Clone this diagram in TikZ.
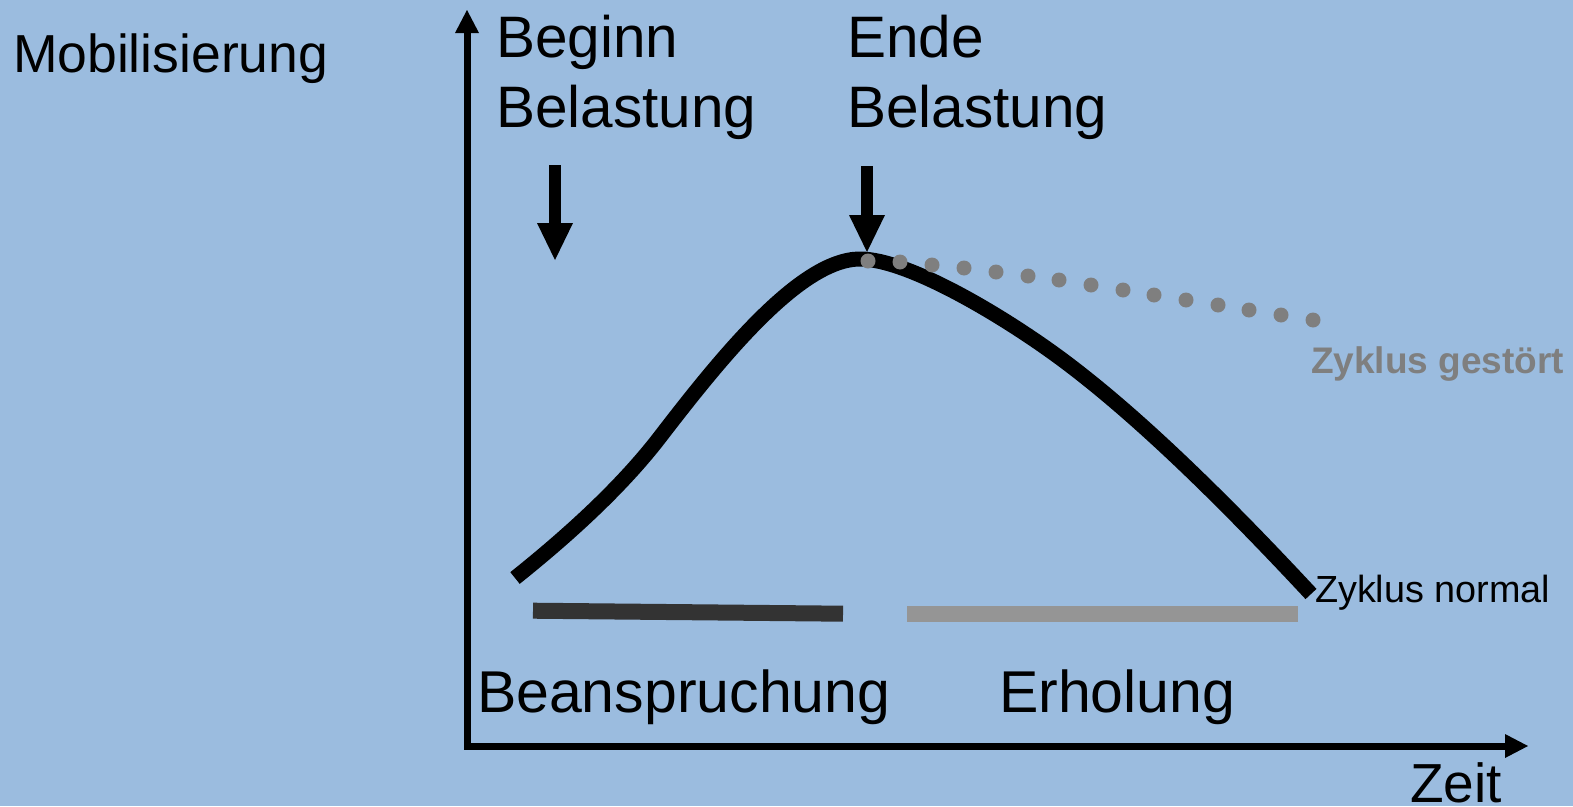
\documentclass[tikz,border=0pt]{standalone}
\usepackage{fontspec}
\setmainfont{Liberation Sans}
\usetikzlibrary{arrows.meta}
\definecolor{bg}{RGB}{155,188,223}
\definecolor{darkbar}{RGB}{51,51,51}
\definecolor{lightbar}{RGB}{149,149,149}
\definecolor{dotgray}{RGB}{127,127,127}
\tikzset{
  axis/.style={line width=7pt, line join=miter,
    {Triangle[width=24pt,length=23pt,line width=0pt]}-{Triangle[width=24pt,length=23pt,line width=0pt]}},
  bigarrow/.style={line width=12pt, -{Triangle[width=36pt,length=37pt,line width=0pt]}},
  curve/.style={line width=15pt, line cap=butt, line join=round},
  bar/.style={line width=16pt, line cap=butt},
  lab/.style={inner sep=0pt, outer sep=0pt, text=black},
  big/.style={lab, font=\fontsize{58.5}{70}\selectfont},
  bottom/.style={lab, font=\fontsize{59}{70}\selectfont},
  mid/.style={lab, font=\fontsize{53.5}{60}\selectfont},
  small/.style={lab, font=\fontsize{37.8}{44}\selectfont},
}
\begin{document}
\begin{tikzpicture}[x=1pt,y=-1pt]
\fill[bg] (0,0) rectangle (1573,806);
\useasboundingbox (0,0) rectangle (1573,806);

% axes
\coordinate (ytip) at (467,10);
\coordinate (O) at (467,746);
\coordinate (xtip) at (1528,746);
\draw[axis] (ytip) -- (O) -- (xtip);

% labels
\node[mid, anchor=base west] (mob) at (13,72) {Mobilisierung};
\node[big, align=left, anchor=north west] (beg) at (496,15) {Beginn\\Belastung};
\node[big, align=left, anchor=north west] (end) at (847,15) {Ende\\Belastung};
\node[bottom, anchor=base west] (bean) at (477,712) {Beanspruchung};
\node[bottom, anchor=base west] (erh) at (999,712) {Erholung};
\node[lab, font=\fontsize{55}{60}\selectfont, anchor=base west] (zeit) at (1410,802) {Zeit};
\node[small, anchor=base west] (zn) at (1315,602) {Zyklus normal};
\node[lab, anchor=base west, text=dotgray, font=\fontsize{37}{44}\selectfont\bfseries] (zg) at (1311,373) {Zyklus gestört};

% down arrows
\coordinate (a1s) at (555,165);
\coordinate (a1e) at (555,260);
\coordinate (a2s) at (867,166);
\coordinate (a2e) at (867,252);
\draw[bigarrow] (a1s) -- (a1e);
\draw[bigarrow] (a2s) -- (a2e);

% bars
\coordinate (b1s) at (533,610.7);
\coordinate (b1e) at (843,613.7);
\coordinate (b2s) at (907,614);
\coordinate (b2e) at (1298,614);
\draw[bar, darkbar] (b1s) -- (b1e);
\draw[bar, lightbar] (b2s) -- (b2e);

% main curve
\coordinate (c0) at (515,578);
\coordinate (c1) at (660,437);
\coordinate (peak) at (860,259);
\coordinate (c3) at (1060,358);
\coordinate (c4) at (1311,594);
\draw[curve] (c0) .. controls (565,538) and (620,489) .. (c1)
  .. controls (720,359) and (800,259) .. (peak)
  .. controls (908,259) and (1003,316) .. (c3)
  .. controls (1140,417) and (1230,507) .. (c4);

% dotted "gestoert" branch
\foreach \px/\py in {868/261, 900/262, 932/265, 964/268, 996/272, 1028/276,
  1059/280, 1091/285, 1123/290, 1154/295, 1186/300, 1218/305, 1249/310,
  1281/315, 1313/320}
  \fill[dotgray] (\px,\py) circle (7.5);
\end{tikzpicture}
\end{document}
